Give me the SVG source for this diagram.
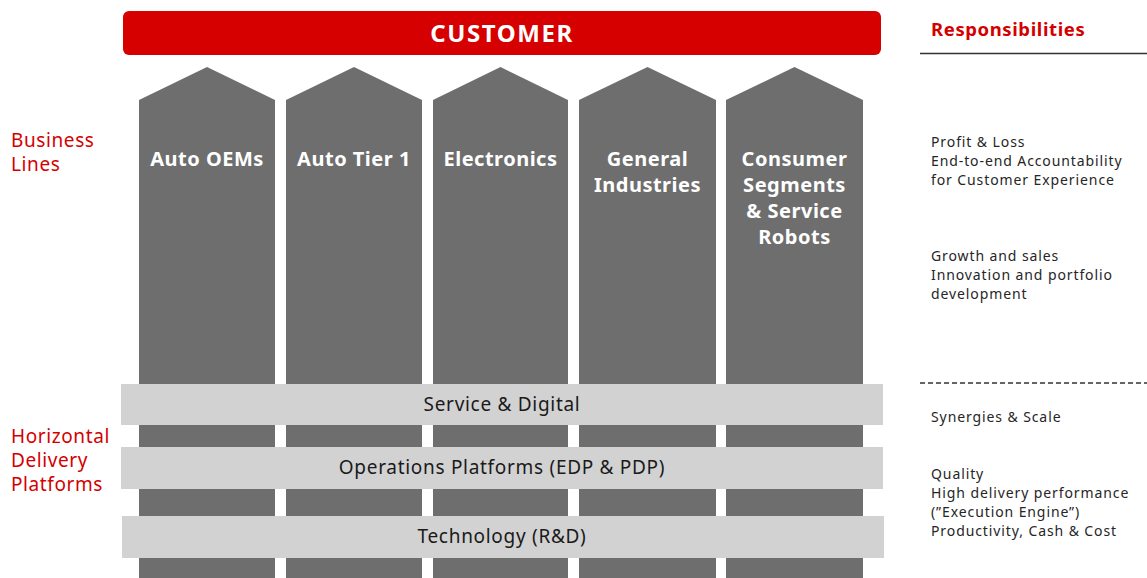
<svg xmlns="http://www.w3.org/2000/svg" width="1147" height="578" viewBox="0 0 1147 578">
<style>
.col{fill:#6e6e6e}
.bar{fill:#d2d2d2}
.ct{font-family:"Noto Sans",sans-serif;font-weight:bold;font-size:20px;letter-spacing:0.5px;fill:#fff;text-anchor:middle}
.bt{font-family:"Noto Sans",sans-serif;font-size:19px;letter-spacing:0.7px;fill:#1a1a1a;text-anchor:middle}
.lt{font-family:"Noto Sans",sans-serif;font-size:19px;letter-spacing:0.6px;fill:#d40000}
.rt{font-family:"Noto Sans",sans-serif;font-size:14px;letter-spacing:0.9px;fill:#262626}
</style>
<rect width="1147" height="578" fill="#fff"/>
<g id="customer">
<rect x="123" y="11" width="758" height="44" rx="6" fill="#d60000"/>
<text x="502" y="42" font-family="Noto Sans,sans-serif" font-weight="bold" font-size="24" letter-spacing="1.6" fill="#fff" text-anchor="middle">CUSTOMER</text>
</g>
<g id="col-auto-oems">
<polygon class="col" points="139,100 207,67 275,100 275,578 139,578"/>
<text class="ct" x="207" y="166">Auto OEMs</text>
</g>
<g id="col-auto-tier1">
<polygon class="col" points="286,100 354,67 422,100 422,578 286,578"/>
<text class="ct" x="354" y="166">Auto Tier 1</text>
</g>
<g id="col-electronics">
<polygon class="col" points="433,100 500.5,67 568,100 568,578 433,578"/>
<text class="ct" x="500.5" y="166">Electronics</text>
</g>
<g id="col-general">
<polygon class="col" points="579,100 647.5,67 716,100 716,578 579,578"/>
<text class="ct" x="647.5" y="166">General</text>
<text class="ct" x="647.5" y="192">Industries</text>
</g>
<g id="col-consumer">
<polygon class="col" points="726,100 794.5,67 863,100 863,578 726,578"/>
<text class="ct" x="794.5" y="166">Consumer</text>
<text class="ct" x="794.5" y="192">Segments</text>
<text class="ct" x="794.5" y="218">&amp; Service</text>
<text class="ct" x="794.5" y="244">Robots</text>
</g>
<g id="bar-service">
<rect class="bar" x="121" y="384" width="762" height="41"/>
<text class="bt" x="502" y="411">Service &amp; Digital</text>
</g>
<g id="bar-operations">
<rect class="bar" x="121" y="447" width="762" height="42"/>
<text class="bt" x="502" y="474">Operations Platforms (EDP &amp; PDP)</text>
</g>
<g id="bar-technology">
<rect class="bar" x="122" y="516" width="762" height="42"/>
<text class="bt" x="502" y="543">Technology (R&amp;D)</text>
</g>
<g id="left-labels">
<text class="lt" x="11" y="147">Business</text>
<text class="lt" x="11" y="171">Lines</text>
<text class="lt" x="11" y="443">Horizontal</text>
<text class="lt" x="11" y="467">Delivery</text>
<text class="lt" x="11" y="491">Platforms</text>
</g>
<g id="responsibilities">
<text x="931" y="36" font-family="Noto Sans,sans-serif" font-weight="bold" font-size="18.5" letter-spacing="0.6" fill="#d40000">Responsibilities</text>
<line x1="920" y1="53.5" x2="1147" y2="53.5" stroke="#333" stroke-width="1.3"/>
<text class="rt" x="931" y="147">Profit &amp; Loss</text>
<text class="rt" x="931" y="166">End-to-end Accountability</text>
<text class="rt" x="931" y="185">for Customer Experience</text>
<text class="rt" x="931" y="261">Growth and sales</text>
<text class="rt" x="931" y="280">Innovation and portfolio</text>
<text class="rt" x="931" y="299">development</text>
<line x1="920" y1="383" x2="1147" y2="383" stroke="#333" stroke-width="1.3" stroke-dasharray="5,3"/>
<text class="rt" x="931" y="422">Synergies &amp; Scale</text>
<text class="rt" x="931" y="479">Quality</text>
<text class="rt" x="931" y="498">High delivery performance</text>
<text class="rt" x="931" y="517">(”Execution Engine”)</text>
<text class="rt" x="931" y="536">Productivity, Cash &amp; Cost</text>
</g>
</svg>
